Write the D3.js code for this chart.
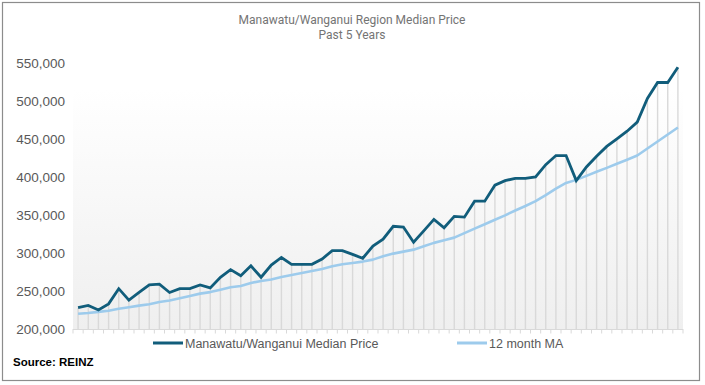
<!DOCTYPE html>
<html>
<head>
<meta charset="utf-8">
<script src="https://cdn.jsdelivr.net/npm/d3@7"></script>
<style>
  html, body { margin: 0; padding: 0; background: #fff; }
  svg { display: block; }
</style>
</head>
<body>
<svg id="chart" width="705" height="385"></svg>
<script>
const titleLines = ["Manawatu/Wanganui Region Median Price", "Past 5 Years"];
const seriesNames = ["Manawatu/Wanganui Median Price", "12 month MA"];
const months = d3.range(60).map(i => "M" + (i + 1));
const medianPrice = [
  228000, 231000, 225000, 233000, 253000, 238000, 248000, 258000, 259000, 248000,
  253000, 253000, 258000, 254000, 268000, 278000, 270000, 283000, 268000, 284000,
  294000, 285000, 285000, 285000, 292000, 303000, 303000, 298000, 293000, 309000,
  318000, 335000, 334000, 314000, 329000, 344000, 333000, 348000, 347000, 368000,
  368000, 389000, 395000, 398000, 398000, 400000, 416000, 428000, 428000, 395000,
  413000, 427000, 440000, 450000, 460000, 472000, 503000, 524000, 524000, 544000
];
const movingAvg = [
  220000, 221000, 222500, 224000, 226500, 228500, 230700, 232500, 235500, 237500,
  240500, 243500, 246500, 248500, 251700, 254800, 256500, 260500, 263200, 265000,
  268400, 271000, 273700, 276300, 278900, 282500, 285100, 286800, 288600, 291200,
  295600, 299100, 301700, 304300, 308800, 313200, 316700, 320100, 326000, 332000,
  337700, 343600, 349400, 355800, 361700, 368000, 376000, 384600, 392000, 396000,
  401300, 406600, 411800, 417100, 422400, 428000, 437200, 446400, 455700, 464900
];
const yTicks = [200000, 250000, 300000, 350000, 400000, 450000, 500000, 550000];
const sourceText = "Source: REINZ";

const svg = d3.select("#chart");
const plot = { left: 73, right: 683, top: 62.7, bottom: 329 };

// outer border
svg.append("rect").attr("x", 2.5).attr("y", 2.5).attr("width", 697).attr("height", 378)
  .attr("fill", "#fff").attr("stroke", "#8c8c8c").attr("stroke-width", 1.2);

// gradient
const defs = svg.append("defs");
const grad = defs.append("linearGradient").attr("id", "bg").attr("x1", 0).attr("y1", 0).attr("x2", 0).attr("y2", 1);
grad.append("stop").attr("offset", "10%").attr("stop-color", "#ffffff");
grad.append("stop").attr("offset", "100%").attr("stop-color", "#efefef");

const x = d3.scaleBand().domain(months).range([plot.left, plot.right]).padding(0);
const y = d3.scaleLinear().domain([200000, 550000]).range([plot.bottom, plot.top]);

svg.append("rect").attr("x", plot.left).attr("y", plot.top)
  .attr("width", plot.right - plot.left).attr("height", plot.bottom - plot.top)
  .attr("fill", "url(#bg)");

const cx = d => x(d) + x.bandwidth() / 2;

// drop lines
svg.append("g").selectAll("line").data(months).join("line")
  .attr("x1", d => cx(d)).attr("x2", d => cx(d))
  .attr("y1", (d, i) => y(medianPrice[i])).attr("y2", plot.bottom)
  .attr("stroke", "#d9d9d9").attr("stroke-width", 1.4);

// x axis
const xAxis = svg.append("g").attr("transform", `translate(0,${plot.bottom})`);
xAxis.append("line").attr("x1", plot.left).attr("x2", plot.right).attr("y1", 0.5).attr("y2", 0.5)
  .attr("stroke", "#d9d9d9").attr("stroke-width", 1);
const boundaries = months.map(m => x(m)).concat([plot.right]);
xAxis.selectAll("line.tk").data(boundaries).join("line").attr("class", "tk")
  .attr("x1", d => d).attr("x2", d => d).attr("y1", 0).attr("y2", 4.5)
  .attr("stroke", "#d9d9d9").attr("stroke-width", 1);

// y axis labels
const yAxis = d3.axisLeft(y).tickValues(yTicks).tickSize(0).tickPadding(0)
  .tickFormat(d3.format(","));
const yg = svg.append("g").attr("transform", `translate(65,0)`).call(yAxis);
yg.select(".domain").remove();
yg.selectAll("text").attr("font-family", "Liberation Sans, Arial, sans-serif")
  .attr("font-size", 13.5).attr("fill", "#595959");

// lines
const line = d3.line().x((d, i) => cx(months[i])).y(d => y(d));
svg.append("path").datum(movingAvg).attr("d", line).attr("fill", "none")
  .attr("stroke", "#9dcbec").attr("stroke-width", 2.6).attr("stroke-linejoin", "round");
svg.append("path").datum(medianPrice).attr("d", line).attr("fill", "none")
  .attr("stroke", "#115d7b").attr("stroke-width", 2.8).attr("stroke-linejoin", "miter");

// title
svg.append("g").selectAll("text").data(titleLines).join("text")
  .attr("x", 352).attr("y", (d, i) => 24 + i * 14.5)
  .attr("text-anchor", "middle")
  .attr("font-family", "Roboto, sans-serif").attr("font-size", 12).attr("fill", "#747474")
  .text(d => d);

// legend
const legend = [
  { name: seriesNames[0], color: "#115d7b", x0: 153 },
  { name: seriesNames[1], color: "#9dcbec", x0: 457 }
];
const lg = svg.append("g").selectAll("g").data(legend).join("g");
lg.append("line").attr("x1", d => d.x0).attr("x2", d => d.x0 + 30).attr("y1", 343).attr("y2", 343)
  .attr("stroke", d => d.color).attr("stroke-width", 3);
lg.append("text").attr("x", d => d.x0 + 32).attr("y", 347.5)
  .attr("font-family", "Liberation Sans, Arial, sans-serif").attr("font-size", 12.5).attr("fill", "#595959")
  .text(d => d.name);

svg.append("text").attr("x", 13).attr("y", 366)
  .attr("font-family", "Liberation Sans, Arial, sans-serif").attr("font-size", 11.5)
  .attr("font-weight", "bold").attr("fill", "#000").text(sourceText);
</script>
</body>
</html>
